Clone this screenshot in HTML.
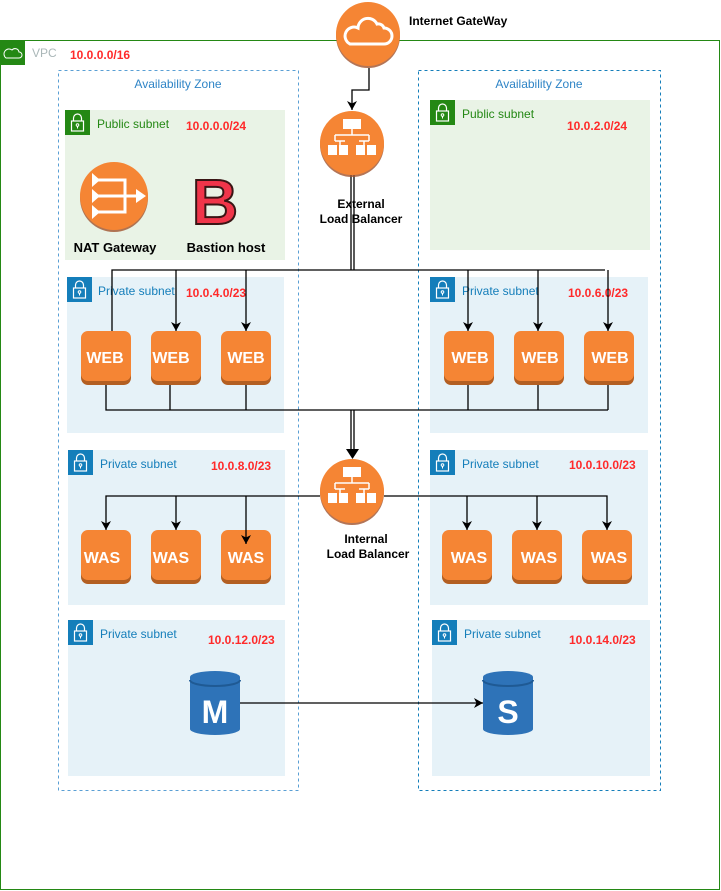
<!DOCTYPE html>
<html><head><meta charset="utf-8"><style>
html,body{margin:0;padding:0;background:#fff;}
svg{display:block;font-family:"Liberation Sans",sans-serif;}
</style></head><body>
<svg width="721" height="891" viewBox="0 0 721 891" xmlns="http://www.w3.org/2000/svg">
<defs>
<marker id="arr" markerWidth="10" markerHeight="10" refX="9" refY="5" orient="auto" markerUnits="userSpaceOnUse">
<path d="M0,0 L9,5 L0,10 L2.5,5 Z" fill="#000"/></marker>
<g id="lockG"><rect width="25" height="25" fill="#248814"/><path d="M8.5,11 v-3 a4,4 0 0 1 8,0 v3" fill="none" stroke="#fff" stroke-width="1.2"/><rect x="6.5" y="11" width="12" height="10" fill="none" stroke="#fff" stroke-width="1.2"/><circle cx="12.5" cy="15" r="1.3" fill="none" stroke="#fff"/><line x1="12.5" y1="16.3" x2="12.5" y2="18.5" stroke="#fff"/></g>
<g id="lockB"><rect width="25" height="25" fill="#147EBA"/><path d="M8.5,11 v-3 a4,4 0 0 1 8,0 v3" fill="none" stroke="#fff" stroke-width="1.2"/><rect x="6.5" y="11" width="12" height="10" fill="none" stroke="#fff" stroke-width="1.2"/><circle cx="12.5" cy="15" r="1.3" fill="none" stroke="#fff"/><line x1="12.5" y1="16.3" x2="12.5" y2="18.5" stroke="#fff"/></g>
<g id="lb"><circle cx="0" cy="2" r="32" fill="#A0522D" opacity="0.8"/><circle cx="0" cy="0" r="32" fill="#F58534"/>
<rect x="-9" y="-24" width="18" height="10" fill="#fff"/><path d="M0,-14 v6 M-17,-8 h34 M-17,-8 v6 M17,-8 v6 M-17,-2 h10 M7,-2 h10 M-12,-2 v4 M12,-2 v4" stroke="#fff" stroke-width="1.5" fill="none"/>
<rect x="-24" y="2" width="9" height="10" fill="#fff"/><rect x="-13" y="2" width="9" height="10" fill="#fff"/><rect x="4" y="2" width="9" height="10" fill="#fff"/><rect x="15" y="2" width="9" height="10" fill="#fff"/></g>
<g id="box"><rect x="0" y="2" width="50" height="52" rx="7" fill="#B35F22"/><rect x="0" y="0" width="50" height="50" rx="7" fill="#F58534"/></g>
</defs>

<rect x="0.5" y="40.5" width="719" height="849" fill="none" stroke="#248814"/>
<rect x="0" y="40" width="25" height="25" fill="#248814"/>
<path d="M6,58 h13 a3,3 0 0 0 0,-6 a4,4 0 0 0 -7,-2 a3,3 0 0 0 -6,8 Z" fill="none" stroke="#fff" stroke-width="1"/>
<text x="32" y="57" font-size="12" fill="#AAB7B8">VPC</text>
<text x="70" y="59" font-size="12" font-weight="bold" fill="#FF2A2A">10.0.0.0/16</text>

<rect x="58.5" y="70.5" width="240" height="720" fill="none" stroke="#5A9FD4" stroke-dasharray="3,3"/>
<rect x="418.5" y="70.5" width="242" height="720" fill="none" stroke="#147EBA" stroke-dasharray="3,3"/>
<text x="178" y="88" font-size="12" fill="#2E84C6" text-anchor="middle">Availability Zone</text>
<text x="539" y="88" font-size="12" fill="#2E84C6" text-anchor="middle">Availability Zone</text>

<g font-weight="bold" font-size="12" fill="#FF2A2A">
<text x="186" y="130">10.0.0.0/24</text>
<text x="567" y="130">10.0.2.0/24</text>
<text x="186" y="297">10.0.4.0/23</text>
<text x="568" y="297">10.0.6.0/23</text>
<text x="211" y="470">10.0.8.0/23</text>
<text x="569" y="469">10.0.10.0/23</text>
<text x="208" y="644">10.0.12.0/23</text>
<text x="569" y="644">10.0.14.0/23</text>
</g>
<rect x="65" y="110" width="220" height="150" fill="#E9F3E6"/><use href="#lockG" x="65" y="110"/>
<text x="97" y="128" font-size="12" fill="#248814">Public subnet</text>
<text x="186" y="130" font-size="12" font-weight="bold" fill="#FF2A2A">10.0.0.0/24</text>
<rect x="430" y="100" width="220" height="150" fill="#E9F3E6"/><use href="#lockG" x="430" y="100"/>
<text x="462" y="118" font-size="12" fill="#248814">Public subnet</text>
<text x="567" y="130" font-size="12" font-weight="bold" fill="#FF2A2A">10.0.2.0/24</text>

<rect x="67" y="277" width="217" height="156" fill="#E6F2F8"/><use href="#lockB" x="67" y="277"/>
<text x="98" y="295" font-size="12" fill="#147EBA">Private subnet</text>
<text x="186" y="297" font-size="12" font-weight="bold" fill="#FF2A2A">10.0.4.0/23</text>
<rect x="430" y="277" width="218" height="156" fill="#E6F2F8"/><use href="#lockB" x="430" y="277"/>
<text x="462" y="295" font-size="12" fill="#147EBA">Private subnet</text>
<text x="568" y="297" font-size="12" font-weight="bold" fill="#FF2A2A">10.0.6.0/23</text>

<rect x="68" y="450" width="217" height="155" fill="#E6F2F8"/><use href="#lockB" x="68" y="450"/>
<text x="100" y="468" font-size="12" fill="#147EBA">Private subnet</text>
<text x="211" y="470" font-size="12" font-weight="bold" fill="#FF2A2A">10.0.8.0/23</text>
<rect x="430" y="450" width="218" height="155" fill="#E6F2F8"/><use href="#lockB" x="430" y="450"/>
<text x="462" y="468" font-size="12" fill="#147EBA">Private subnet</text>
<text x="569" y="469" font-size="12" font-weight="bold" fill="#FF2A2A">10.0.10.0/23</text>

<rect x="68" y="620" width="217" height="156" fill="#E6F2F8"/><use href="#lockB" x="68" y="620"/>
<text x="100" y="638" font-size="12" fill="#147EBA">Private subnet</text>
<text x="208" y="644" font-size="12" font-weight="bold" fill="#FF2A2A">10.0.12.0/23</text>
<rect x="432" y="620" width="218" height="156" fill="#E6F2F8"/><use href="#lockB" x="432" y="620"/>
<text x="464" y="638" font-size="12" fill="#147EBA">Private subnet</text>
<text x="569" y="644" font-size="12" font-weight="bold" fill="#FF2A2A">10.0.14.0/23</text>

<g stroke="#000" stroke-width="1.3" fill="none">
<path d="M369,68 V90 H352 V110" marker-end="url(#arr)"/>
<path d="M351,175 V270 M354,175 V270"/>
<path d="M112,331 V270 H605"/>
<path d="M176,270 V331" marker-end="url(#arr)"/>
<path d="M246,270 V331" marker-end="url(#arr)"/>
<path d="M468,270 V331" marker-end="url(#arr)"/>
<path d="M538,270 V331" marker-end="url(#arr)"/>
<path d="M608,270 V331" marker-end="url(#arr)"/>
<path d="M106,383 V410 H608 M170,368 V410 M246,368 V410 M468,368 V410 M538,368 V410 M608,368 V410"/>
<path d="M351,410 V452 M354,410 V452"/>
<path d="M346,449 L352.5,459 L359,449 Z" fill="#000" stroke="none"/>
<path d="M320,496 H106 V530" marker-end="url(#arr)"/>
<path d="M176,496 V530" marker-end="url(#arr)"/>
<path d="M384,496 H607 V530" marker-end="url(#arr)"/>
<path d="M467,496 V530" marker-end="url(#arr)"/>
<path d="M537,496 V530" marker-end="url(#arr)"/>
</g>

<circle cx="368" cy="36" r="32" fill="#A0522D" opacity="0.8"/><circle cx="368" cy="34" r="32" fill="#F58534"/>
<path d="M350,44 h34 a8,8 0 0 0 0,-16 a6,6 0 0 0 -7,-4 a10,10 0 0 0 -19,4 a8,8 0 0 0 -8,16 Z" fill="none" stroke="#fff" stroke-width="3"/>
<text x="409" y="25" font-size="12" font-weight="bold" fill="#000">Internet GateWay</text>

<use href="#lb" x="352" y="143"/>
<text x="361" y="208" font-size="12" font-weight="bold" text-anchor="middle">External</text>
<text x="361" y="223" font-size="12" font-weight="bold" text-anchor="middle">Load Balancer</text>
<use href="#lb" x="352" y="491"/>
<text x="366" y="543" font-size="12" font-weight="bold" text-anchor="middle">Internal</text>
<text x="368" y="558" font-size="12" font-weight="bold" text-anchor="middle">Load Balancer</text>

<circle cx="114" cy="198" r="34" fill="#A0522D" opacity="0.8"/><circle cx="114" cy="196" r="34" fill="#F58534"/>
<g stroke="#fff" stroke-width="3" fill="none"><path d="M98,180 H125 V212 H98 M98,196 H138"/></g>
<path d="M92,173 L100,180 L92,187 Z M92,189 L100,196 L92,203 Z M92,205 L100,212 L92,219 Z M136,189 L146,196 L136,203 Z" fill="#fff"/>
<text x="115" y="252" font-size="13" font-weight="bold" text-anchor="middle">NAT Gateway</text>
<text x="215" y="224" font-size="64" font-weight="bold" fill="#F0354A" stroke="#3A1515" stroke-width="2" text-anchor="middle">B</text>
<text x="226" y="252" font-size="13" font-weight="bold" text-anchor="middle">Bastion host</text>

<g font-size="16" font-weight="bold" fill="#fff" text-anchor="middle">
<use href="#box" x="81" y="331"/><use href="#box" x="151" y="331"/><use href="#box" x="221" y="331"/>
<use href="#box" x="444" y="331"/><use href="#box" x="514" y="331"/><use href="#box" x="584" y="331"/>
<text x="105" y="363">WEB</text><text x="171" y="363">WEB</text><text x="246" y="363">WEB</text>
<text x="470" y="363">WEB</text><text x="540" y="363">WEB</text><text x="610" y="363">WEB</text>
<use href="#box" x="81" y="530"/><use href="#box" x="151" y="530"/><use href="#box" x="221" y="530"/>
<use href="#box" x="442" y="530"/><use href="#box" x="512" y="530"/><use href="#box" x="582" y="530"/>
<text x="102" y="563">WAS</text><text x="171" y="563">WAS</text><text x="246" y="563">WAS</text>
<text x="469" y="563">WAS</text><text x="539" y="563">WAS</text><text x="609" y="563">WAS</text>
</g>
<path d="M246,496 V544" stroke="#000" stroke-width="1.3" marker-end="url(#arr)"/>

<g>
<path d="M190,677 V729 a25,6 0 0 0 50,0 V677 Z" fill="#2E73B8"/>
<ellipse cx="215" cy="677" rx="25" ry="6" fill="#2E73B8"/><path d="M190,680 a25,6 0 0 0 50,0" stroke="#1F5A94" fill="none" stroke-width="2"/>
<text x="215" y="723" font-size="32" font-weight="bold" fill="#fff" text-anchor="middle">M</text>
<path d="M483,677 V729 a25,6 0 0 0 50,0 V677 Z" fill="#2E73B8"/>
<ellipse cx="508" cy="677" rx="25" ry="6" fill="#2E73B8"/><path d="M483,680 a25,6 0 0 0 50,0" stroke="#1F5A94" fill="none" stroke-width="2"/>
<text x="508" y="723" font-size="32" font-weight="bold" fill="#fff" text-anchor="middle">S</text>
</g>
<path d="M240,703 H483" stroke="#000" stroke-width="1.3" marker-end="url(#arr)"/>
</svg>
</body></html>
